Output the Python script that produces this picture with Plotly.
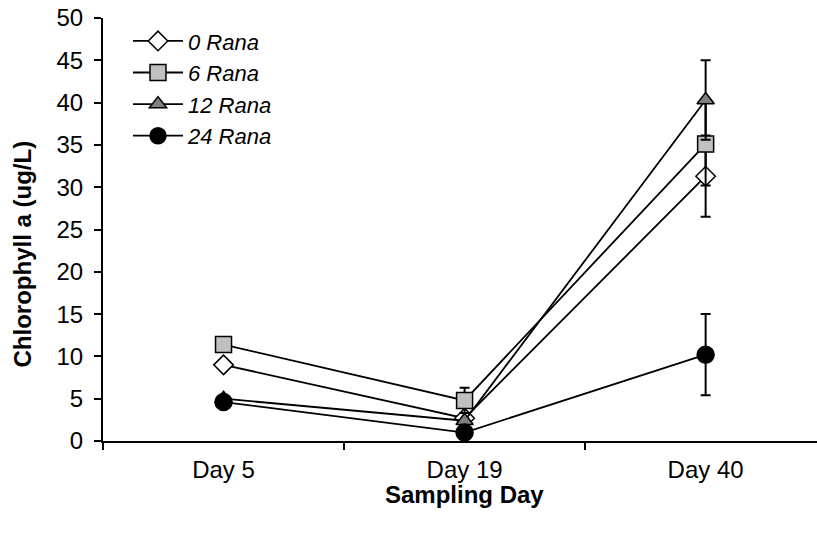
import plotly.graph_objects as go

days = ["Day 5", "Day 19", "Day 40"]
series_names = ["0 Rana", "6 Rana", "12 Rana", "24 Rana"]
values = {
    "0 Rana": [9.0, 2.7, 31.3],
    "6 Rana": [11.4, 4.8, 35.1],
    "12 Rana": [5.0, 2.4, 40.3],
    "24 Rana": [4.6, 1.0, 10.2],
}
errors = {
    "0 Rana": [0.0, 0.0, 4.8],
    "6 Rana": [0.0, 1.5, 4.9],
    "12 Rana": [0.0, 0.0, 4.7],
    "24 Rana": [0.6, 0.0, 4.8],
}
yticks = [0, 5, 10, 15, 20, 25, 30, 35, 40, 45, 50]

styles = {
    "0 Rana": dict(symbol="diamond", color="white", size=15),
    "6 Rana": dict(symbol="square", color="#C0C0C0", size=16),
    "12 Rana": dict(symbol="triangle-up", color="#808080", size=15),
    "24 Rana": dict(symbol="circle", color="black", size=17),
}

xpos = list(range(len(days)))
fig = go.Figure()
for name in series_names:
    st = styles[name]
    fig.add_trace(go.Scatter(
        x=xpos, y=values[name], name=name, mode="lines+markers",
        line=dict(color="black", width=1.8),
        marker=dict(symbol=st["symbol"], size=st["size"], color=st["color"],
                    line=dict(color="black", width=1.5)),
        error_y=dict(type="data", array=errors[name], visible=True,
                     color="black", thickness=2, width=5),
    ))

FONT = "Liberation Sans, Arial, sans-serif"
fig.update_layout(
    width=817, height=540,
    margin=dict(l=103, r=0, t=18, b=99),
    plot_bgcolor="white", paper_bgcolor="white",
    font=dict(family=FONT, size=24, color="black"),
    showlegend=True,
    legend=dict(x=0.035, y=0.995, xanchor="left", yanchor="top",
                font=dict(family=FONT, size=22, style="italic"),
                bgcolor="rgba(0,0,0,0)", itemwidth=50),
    xaxis=dict(range=[-0.5, 2.462], tickvals=xpos, ticktext=days,
               ticks="", showline=True, linecolor="black", linewidth=2,
               showgrid=False, zeroline=False,
               minor=dict(tick0=0.5, dtick=1, ticks="outside", ticklen=7,
                          tickcolor="black", tickwidth=1.5),
               tickfont=dict(size=24), ticklabelstandoff=6),
    yaxis=dict(range=[0, 50], tickvals=yticks, ticks="outside", ticklen=7,
               tickcolor="black", tickwidth=1.5, showline=True,
               linecolor="black", linewidth=2, showgrid=False, zeroline=False,
               tickfont=dict(size=24), ticklabelstandoff=6),
    annotations=[
        dict(text="<b>Sampling Day</b>", x=1, xref="x", y=0, yref="paper",
             yanchor="top", yshift=-38, showarrow=False,
             font=dict(family=FONT, size=24)),
        dict(text="<b>Chlorophyll a (ug/L)</b>", x=0, xref="paper", y=0.5,
             yref="paper", xanchor="center", yanchor="middle", xshift=-81,
             yshift=-25, textangle=-90, showarrow=False,
             font=dict(family=FONT, size=24)),
    ],
)
fig.write_html("out.html")
